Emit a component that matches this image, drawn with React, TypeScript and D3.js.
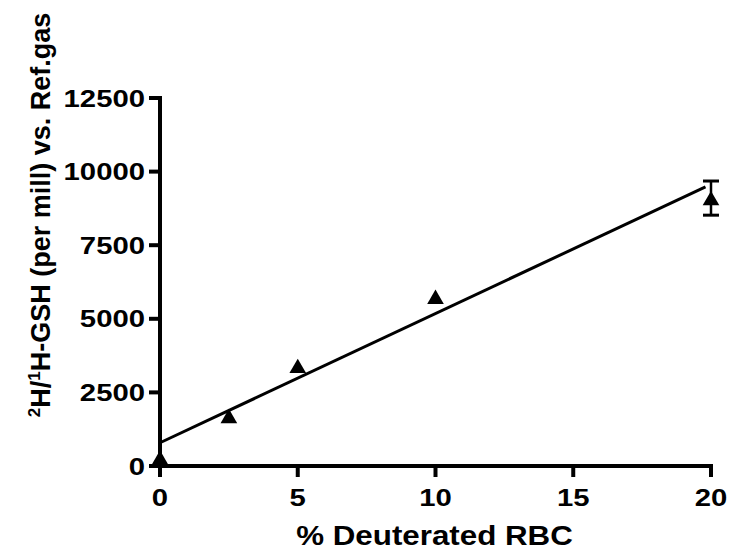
import React, { useEffect, useRef } from "react";
import * as d3 from "d3";

const xValues = [0, 2.5, 5, 10, 20];
const yValues = [290, 1700, 3400, 5750, 9100];
const yErrors = [0, 0, 0, 0, 580];
const fitX = [0, 19.8];
const fitY = [790, 9480];
const xTicks = [0, 5, 10, 15, 20];
const yTicks = [0, 2500, 5000, 7500, 10000, 12500];

const W = 729;
const H = 556;
const FONT = "'Liberation Sans', Arial, Helvetica, sans-serif";

export default function App() {
  const ref = useRef<SVGSVGElement>(null);

  useEffect(() => {
    const svg = d3.select(ref.current);
    svg.selectAll("*").remove();

    const x = d3.scaleLinear().domain([0, 20]).range([160, 711]);
    const y = d3.scaleLinear().domain([0, 12500]).range([466, 98]);

    const g = svg.append("g");

    // fit line
    const line = d3.line<number>().x((d) => x(d)).y((_, i) => y(fitY[i]));
    g.append("path")
      .attr("d", line(fitX) as string)
      .attr("fill", "none")
      .attr("stroke", "#000")
      .attr("stroke-width", 3);

    // error bars
    xValues.forEach((xv, i) => {
      const e = yErrors[i];
      if (!e) return;
      const cx = x(xv);
      const top = y(yValues[i] + e);
      const bot = y(yValues[i] - e);
      g.append("line").attr("x1", cx).attr("x2", cx).attr("y1", top).attr("y2", bot)
        .attr("stroke", "#000").attr("stroke-width", 2.5);
      [top, bot].forEach((yy) => {
        g.append("line").attr("x1", cx - 8).attr("x2", cx + 8).attr("y1", yy).attr("y2", yy)
          .attr("stroke", "#000").attr("stroke-width", 3);
      });
    });

    // points (triangles)
    const tri = d3.symbol().type(d3.symbolTriangle).size(120);
    g.selectAll("path.pt")
      .data(xValues)
      .enter()
      .append("path")
      .attr("class", "pt")
      .attr("d", tri as any)
      .attr("transform", (d, i) => `translate(${x(d)},${y(yValues[i]) + 2.4})`)
      .attr("fill", "#000");

    // axes
    const axisColor = "#000";
    g.append("line").attr("x1", 160).attr("x2", 160).attr("y1", y(12500) - 2).attr("y2", 476)
      .attr("stroke", axisColor).attr("stroke-width", 4);
    g.append("line").attr("x1", 158).attr("x2", x(20) + 2).attr("y1", 466).attr("y2", 466)
      .attr("stroke", axisColor).attr("stroke-width", 4);

    yTicks.forEach((t) => {
      g.append("line").attr("x1", 149).attr("x2", 160).attr("y1", y(t)).attr("y2", y(t))
        .attr("stroke", axisColor).attr("stroke-width", 4);
      g.append("text").attr("transform", `translate(145,${y(t)}) scale(1.22,1)`).attr("dy", "0.36em")
        .attr("text-anchor", "end").attr("font-family", FONT).attr("font-weight", "bold")
        .attr("font-size", 24).text(String(t));
    });
    xTicks.forEach((t) => {
      g.append("line").attr("x1", x(t)).attr("x2", x(t)).attr("y1", 466).attr("y2", 477)
        .attr("stroke", axisColor).attr("stroke-width", 4);
      g.append("text").attr("transform", `translate(${x(t)},506) scale(1.22,1)`)
        .attr("text-anchor", "middle").attr("font-family", FONT).attr("font-weight", "bold")
        .attr("font-size", 24).text(String(t));
    });

    // x title
    g.append("text").attr("transform", `translate(${x(10) - 1},545) scale(1.16,1)`).attr("text-anchor", "middle")
      .attr("font-family", FONT).attr("font-weight", "bold").attr("font-size", 27)
      .text("% Deuterated RBC");

    // y title
    const yt = g.append("text").attr("transform", `translate(50,215) rotate(-90)`)
      .attr("text-anchor", "middle").attr("font-family", FONT).attr("font-weight", "bold")
      .attr("font-size", 27);
    yt.append("tspan").attr("font-size", 17).attr("dy", -10).text("2");
    yt.append("tspan").attr("dy", 10).text("H/");
    yt.append("tspan").attr("font-size", 17).attr("dy", -10).text("1");
    yt.append("tspan").attr("dy", 10).text("H-GSH (per mill) vs. Ref.gas");
  }, []);

  return (
    <svg
      ref={ref}
      width={W}
      height={H}
      style={{ position: "absolute", left: 0, top: 0, background: "#fff" }}
    />
  );
}
